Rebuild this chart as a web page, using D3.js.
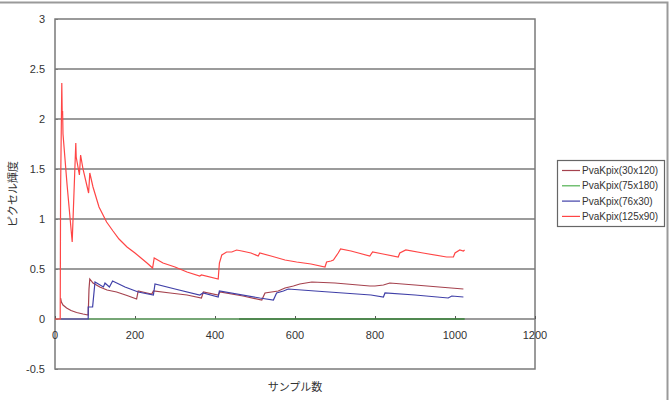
<!DOCTYPE html>
<html>
<head>
    <meta charset="utf-8">
    <script src="https://d3js.org/d3.v7.min.js"></script>
    <style>
        body { margin: 0; background: white; }
        text { font-family: "Liberation Sans", Arial, sans-serif; fill: #333; }
        .jp { font-family: "Noto Sans CJK JP", sans-serif; font-size: 11px; }
        .legend text { font-size: 10px; }
        path.series { fill: none; stroke-width: 1.2; }
    </style>
</head>
<body>
<script>
    // series: PvaKpix(30x120)
    var samples30x120 = [14, 16, 20, 29, 40, 54, 70, 83, 85, 87, 95, 112, 130, 154, 180, 204, 208, 230, 242, 246, 288, 330, 366, 371, 408, 412, 470, 517, 525, 558, 575, 596, 612, 642, 700, 787, 800, 821, 837, 900, 960, 1021];
    var values30x120  = [0.21, 0.17, 0.14, 0.11, 0.085, 0.065, 0.05, 0.04, 0.30, 0.40, 0.36, 0.32, 0.29, 0.27, 0.235, 0.20, 0.28, 0.26, 0.25, 0.28, 0.26, 0.24, 0.21, 0.27, 0.24, 0.27, 0.23, 0.19, 0.26, 0.28, 0.31, 0.33, 0.35, 0.37, 0.36, 0.33, 0.33, 0.34, 0.36, 0.34, 0.32, 0.30];

    // series: PvaKpix(75x180)
    var samples75x180 = [83, 460, 1024];
    var values75x180  = [0, 0, 0];

    // series: PvaKpix(76x30)
    var samples76x30 = [14, 83, 83, 94, 100, 121, 125, 136, 144, 175, 208, 246, 250, 300, 362, 370, 408, 411, 512, 546, 554, 571, 583, 650, 720, 790, 821, 825, 900, 983, 992, 1021];
    var values76x30  = [0, 0, 0.12, 0.12, 0.37, 0.32, 0.36, 0.32, 0.38, 0.32, 0.27, 0.24, 0.35, 0.30, 0.24, 0.26, 0.22, 0.28, 0.21, 0.19, 0.26, 0.28, 0.30, 0.28, 0.26, 0.24, 0.22, 0.26, 0.24, 0.21, 0.23, 0.22];

    // series: PvaKpix(125x90)
    var samples125x90 = [0, 13, 14, 17, 18, 19, 20, 30, 43, 52, 53, 61, 64, 70, 84, 87, 95, 110, 129, 145, 160, 180, 200, 212, 230, 244, 248, 270, 300, 330, 362, 366, 408, 411, 417, 421, 429, 442, 454, 467, 490, 508, 512, 540, 575, 604, 640, 675, 679, 690, 696, 708, 714, 740, 787, 794, 820, 858, 862, 877, 920, 979, 996, 1000, 1012, 1021, 1024];
    var values125x90  = [0, 0, 1.3, 2.36, 2.05, 2.08, 1.85, 1.35, 0.77, 1.76, 1.62, 1.44, 1.64, 1.5, 1.26, 1.46, 1.32, 1.12, 0.97, 0.88, 0.80, 0.72, 0.66, 0.62, 0.56, 0.51, 0.61, 0.56, 0.52, 0.47, 0.43, 0.44, 0.40, 0.56, 0.64, 0.65, 0.67, 0.67, 0.69, 0.68, 0.66, 0.63, 0.66, 0.63, 0.59, 0.57, 0.55, 0.52, 0.57, 0.58, 0.59, 0.66, 0.70, 0.68, 0.63, 0.67, 0.65, 0.62, 0.66, 0.69, 0.66, 0.62, 0.62, 0.66, 0.69, 0.68, 0.69];

    var seriesNames = ["PvaKpix(30x120)", "PvaKpix(75x180)", "PvaKpix(76x30)", "PvaKpix(125x90)"];
    var seriesColors = ["#a5424e", "#52b152", "#4040a8", "#ff4545"];
    var xTicks = [0, 200, 400, 600, 800, 1000, 1200];
    var yTicks = [-0.5, 0, 0.5, 1, 1.5, 2, 2.5, 3];

    var series = [
        {s: samples30x120, v: values30x120},
        {s: samples75x180, v: values75x180},
        {s: samples76x30, v: values76x30},
        {s: samples125x90, v: values125x90}
    ];

    var svg = d3.select("body").append("svg")
                .attr("width", 671).attr("height", 400);

    // outer chart frame
    svg.append("rect")
        .attr("x", -5).attr("y", 2.5).attr("width", 672.5).attr("height", 410)
        .attr("fill", "white").attr("stroke", "#9a9a9a").attr("stroke-width", 2);

    var plotL = 55, plotR = 535, plotT = 19, plotB = 369;
    var x = d3.scaleLinear().domain([0, 1200]).range([plotL, plotR]);
    var y = d3.scaleLinear().domain([-0.5, 3]).range([plotB, plotT]);

    // grid lines
    svg.append("g").selectAll("line")
        .data(yTicks.filter(function(d){ return d > -0.5 && d < 3; }))
        .enter().append("line")
        .attr("x1", plotL).attr("x2", plotR)
        .attr("y1", function(d){ return y(d); })
        .attr("y2", function(d){ return y(d); })
        .attr("stroke", "#7a7a7a").attr("stroke-width", 1.3);

    // plot border
    svg.append("rect")
        .attr("x", plotL).attr("y", plotT)
        .attr("width", plotR - plotL).attr("height", plotB - plotT)
        .attr("fill", "none").attr("stroke", "#7a7a7a").attr("stroke-width", 1.5);

    // y axis
    var yAxis = svg.append("g")
        .attr("transform", "translate(" + plotL + ",0)")
        .call(d3.axisRight(y).tickValues(yTicks).tickSize(3).tickFormat(function(d){ return d; }));
    yAxis.select(".domain").remove();
    yAxis.selectAll("line").attr("stroke", "#7a7a7a");
    yAxis.selectAll("text").attr("x", -10).attr("text-anchor", "end")
        .attr("fill", "#333").style("font-size", "11px")
        .style("font-family", "'Liberation Sans', Arial, sans-serif");

    // x axis on the zero line
    var xAxis = svg.append("g")
        .attr("transform", "translate(0," + y(0) + ")")
        .call(d3.axisTop(x).tickValues(xTicks).tickSize(3).tickFormat(""));
    xAxis.select(".domain").remove();
    xAxis.selectAll("line").attr("stroke", "#555");

    svg.append("g").selectAll("text")
        .data(xTicks).enter().append("text")
        .attr("x", function(d){ return x(d); })
        .attr("y", y(0) + 20)
        .attr("text-anchor", "middle")
        .style("font-size", "11px")
        .text(function(d){ return d; });

    // lines
    var line = d3.line()
        .x(function(d){ return x(d[0]); })
        .y(function(d){ return y(d[1]); });

    series.forEach(function(sr, i){
        var pts = sr.s.map(function(s, k){ return [s, sr.v[k]]; });
        svg.append("path").attr("class", "series")
            .attr("d", line(pts))
            .attr("stroke", seriesColors[i]);
        if (i == 1) {
            svg.append("path").attr("class", "series")
                .attr("d", line(pts.slice(1)))
                .attr("stroke", "#2a6a2a").attr("stroke-width", 1.6);
        }
    });

    // axis titles
    svg.append("text").attr("class", "jp")
        .attr("transform", "translate(17," + ((plotT + plotB) / 2) + ") rotate(-90)")
        .attr("text-anchor", "middle")
        .text("ピクセル輝度");
    svg.append("text").attr("class", "jp")
        .attr("x", (plotL + plotR) / 2).attr("y", 391)
        .attr("text-anchor", "middle")
        .text("サンプル数");

    // legend
    var legend = svg.append("g").attr("class", "legend");
    legend.append("rect")
        .attr("x", 557.5).attr("y", 160.5).attr("width", 107).attr("height", 66)
        .attr("fill", "white").attr("stroke", "#666").attr("stroke-width", 1.2);
    var rows = legend.selectAll("g.row").data(seriesNames).enter().append("g")
        .attr("class", "row")
        .attr("transform", function(d, i){ return "translate(0," + (170.5 + i * 15.3) + ")"; });
    rows.append("line")
        .attr("x1", 562).attr("x2", 580)
        .attr("stroke", function(d, i){ return seriesColors[i]; })
        .attr("stroke-width", 1.2);
    rows.append("text")
        .attr("x", 582).attr("dy", "0.35em")
        .text(function(d){ return d; });
</script>
</body>
</html>
